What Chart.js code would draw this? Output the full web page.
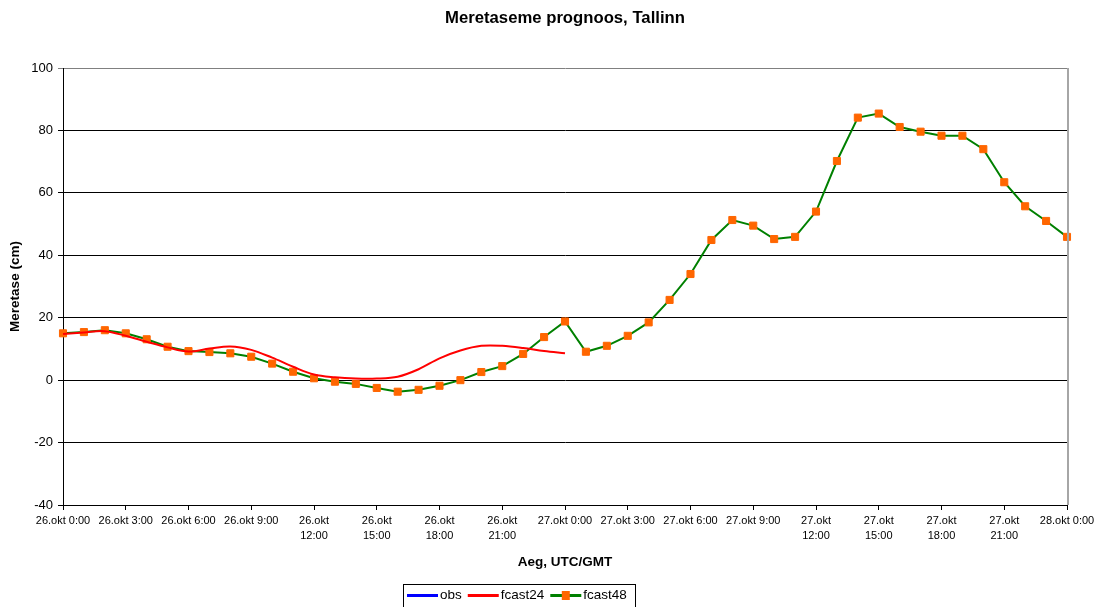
<!DOCTYPE html>
<html>
<head>
<meta charset="utf-8">
<script src="https://cdn.jsdelivr.net/npm/chart.js@4/dist/chart.umd.min.js"></script>
<style>
  html, body { margin: 0; padding: 0; background: #fff; }
  #wrap { width: 1099px; height: 607px; }
</style>
</head>
<body>
<div id="wrap"><canvas id="levelChart" width="1099" height="607"></canvas></div>
<script>
// time axis: hourly, 26.okt 0:00 -> 28.okt 0:00
var days = ["26.okt", "27.okt", "28.okt"];
var timeLabels = [];
for (var d = 0; d < days.length; d++) {
    for (var h = 0; h < 24; h++) {
        if (d == 2 && h > 0) break;
        timeLabels.push(days[d] + " " + h + ":00");
    }
}

var obsValues = [];
var fcast24Values = [14.8, 15.3, 15.7, 14.2, 12.3, 10.5, 9.2, 10.1, 10.8, 9.7, 7.2, 4.3, 1.8,
    0.9, 0.5, 0.5, 1.1, 3.5, 7.0, 9.5, 11.0, 11.0, 10.3, 9.3, 8.6];
var fcast48Values = [15.0, 15.4, 16.0, 15.0, 13.1, 10.7, 9.3, 9.0, 8.6, 7.5, 5.3, 2.7, 0.6,
    -0.5, -1.2, -2.5, -3.7, -3.1, -1.8, 0.0, 2.6, 4.5, 8.4, 13.8, 18.8,
    9.1, 11.0, 14.2, 18.5, 25.7, 34.0, 44.9, 51.3, 49.5, 45.2, 45.9, 54.0,
    70.2, 84.1, 85.4, 81.1, 79.6, 78.3, 78.3, 74.0, 63.4, 55.7, 51.0, 45.9];

var yTicks = [-40, -20, 0, 20, 40, 60, 80, 100];

Chart.defaults.font.family = "'Liberation Sans', Arial, sans-serif";
Chart.defaults.font.size = 11;
Chart.defaults.color = "#000";

// plot area frame on the right, like the excel original
const frame = {
    id: "frame",
    afterDatasetsDraw(chart) {
        const a = chart.chartArea;
        const ctx = chart.ctx;
        ctx.save();
        ctx.strokeStyle = "#a6a6a6";
        ctx.lineWidth = 2;
        ctx.beginPath();
        ctx.moveTo(a.right + 1, a.top);
        ctx.lineTo(a.right + 1, a.bottom);
        ctx.stroke();
        ctx.restore();
    }
};

// boxed legend under the axis title
const boxLegend = {
    id: "boxLegend",
    afterDraw(chart) {
        const ctx = chart.ctx;
        const sets = chart.data.datasets;
        const x0 = 403, y0 = 584, w = 232, h = 26;
        ctx.save();
        ctx.fillStyle = "#fff";
        ctx.fillRect(x0, y0, w, h);
        ctx.strokeStyle = "#000";
        ctx.lineWidth = 1;
        ctx.strokeRect(x0 + 0.5, y0 + 0.5, w, h);
        ctx.font = "13.5px 'Liberation Sans', Arial, sans-serif";
        ctx.textBaseline = "middle";
        var x = x0 + 4;
        var y = y0 + 11.5;
        for (var i = 0; i < sets.length; i++) {
            ctx.strokeStyle = sets[i].borderColor;
            ctx.lineWidth = 3;
            ctx.beginPath();
            ctx.moveTo(x, y);
            ctx.lineTo(x + 31, y);
            ctx.stroke();
            if (sets[i].pointRadius > 0) {
                ctx.fillStyle = sets[i].pointBackgroundColor;
                ctx.fillRect(x + 11.5, y - 4.5, 8, 9);
            }
            ctx.fillStyle = "#000";
            ctx.fillText(sets[i].label, x + 33, y);
            x += 33 + ctx.measureText(sets[i].label).width + 6;
        }
        ctx.restore();
    }
};

var levelChart = new Chart(document.getElementById("levelChart"), {
    type: "line",
    data: {
        labels: timeLabels,
        datasets: [{
            label: "obs",
            data: obsValues,
            borderColor: "#0000ff",
            borderWidth: 2,
            pointRadius: 0
        }, {
            label: "fcast24",
            data: fcast24Values,
            borderColor: "#ff0000",
            borderWidth: 2,
            pointRadius: 0,
            tension: 0.35
        }, {
            label: "fcast48",
            data: fcast48Values,
            borderColor: "#008000",
            borderWidth: 2,
            pointStyle: "rect",
            pointRadius: 5,
            pointBorderWidth: 1,
            pointBackgroundColor: "#ff6600",
            pointBorderColor: "#ff6600"
        }]
    },
    options: {
        responsive: false,
        animation: false,
        layout: { padding: { top: 8, right: 32, bottom: 28, left: 0 } },
        plugins: {
            legend: { display: false },
            tooltip: { enabled: false },
            title: {
                display: true,
                fullSize: false,
                text: "Meretaseme prognoos, Tallinn",
                font: { size: 16.7, weight: "bold", lineHeight: 1.2 },
                padding: { top: 0, bottom: 39.96 }
            }
        },
        scales: {
            x: {
                grid: {
                    drawOnChartArea: false,
                    tickLength: 5,
                    color: (c) => (c.index % 3 == 0 ? "#000" : "rgba(0,0,0,0)")
                },
                border: { color: "#000", width: 1 },
                ticks: {
                    autoSkip: false,
                    maxRotation: 0,
                    padding: 4,
                    font: { size: 11, lineHeight: 1.35 },
                    callback: function (val, idx) {
                        if (idx % 3 != 0) return "";
                        var lab = timeLabels[idx];
                        var hr = parseInt(lab.split(" ")[1]);
                        return hr >= 10 ? lab.split(" ") : lab;
                    }
                },
                title: {
                    display: true,
                    text: "Aeg, UTC/GMT",
                    font: { size: 13.5, weight: "bold" },
                    padding: { top: 4, bottom: 9 }
                },
                afterFit: (s) => { s.height = 74; }
            },
            y: {
                min: -40,
                max: 100,
                afterBuildTicks: (s) => { s.ticks = yTicks.map(v => ({ value: v })); },
                grid: {
                    color: (c) => (c.tick && c.tick.value == 100 ? "#808080" : "#000"),
                    tickLength: 5
                },
                border: { color: "#000", width: 1 },
                ticks: { padding: 5, font: { size: 13 } },
                title: {
                    display: true,
                    text: "Meretase (cm)",
                    font: { size: 13.5, weight: "bold" },
                    padding: { top: 7.3, bottom: 0 }
                },
                afterFit: (s) => { s.width = 63; }
            }
        }
    },
    plugins: [frame, boxLegend]
});
</script>
</body>
</html>
